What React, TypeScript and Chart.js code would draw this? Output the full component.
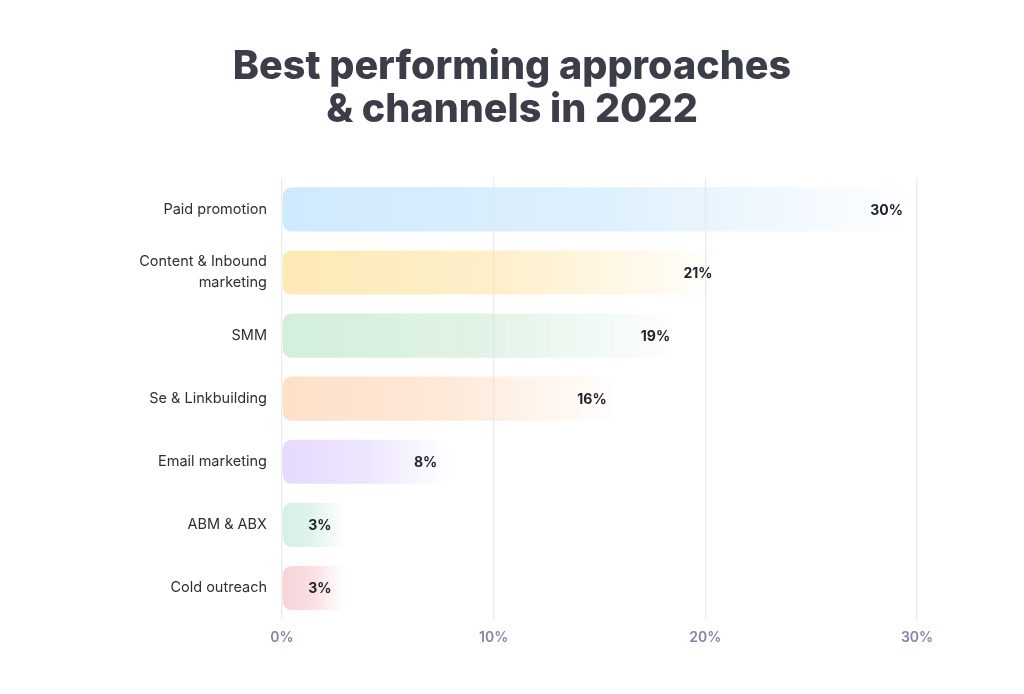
import React, { useEffect, useRef } from "react";
import { Chart, registerables } from "chart.js";

Chart.register(...registerables);

const categories: (string | string[])[] = [
  "Paid promotion",
  ["Content & Inbound", "marketing"],
  "SMM",
  "Se & Linkbuilding",
  "Email marketing",
  "ABM & ABX",
  "Cold outreach",
];
const values = [30, 21, 19, 16, 8, 3, 3];
const barColors = ["#cfe9fc", "#fde9b5", "#d3eedb", "#fde0c8", "#e6dafd", "#d4efe7", "#f8d3d8"];
const xTicks = [0, 10, 20, 30];
const titleLines = ["Best performing approaches", "& channels in 2022"];

function hexToRgba(hex: string, a: number) {
  const n = parseInt(hex.slice(1), 16);
  return `rgba(${(n >> 16) & 255},${(n >> 8) & 255},${n & 255},${a})`;
}

const FONT = "Inter, 'Noto Sans', sans-serif";

const valueLabels = {
  id: "valueLabels",
  afterDatasetsDraw(chart: any) {
    const ctx = chart.ctx;
    const meta = chart.getDatasetMeta(0);
    ctx.save();
    ctx.font = `700 14px ${FONT}`;
    ctx.fillStyle = "#23242b";
    ctx.textAlign = "right";
    ctx.textBaseline = "middle";
    meta.data.forEach((bar: any, i: number) => {
      ctx.fillText(values[i] + "%", bar.x - 14, bar.y + 1);
    });
    ctx.restore();
  },
};

export default function App() {
  const ref = useRef<HTMLCanvasElement>(null);
  useEffect(() => {
    const chart = new Chart(ref.current!, {
      type: "bar",
      data: {
        labels: categories,
        datasets: [
          {
            data: values,
            backgroundColor: (c: any) => {
              const chart = c.chart;
              const i = c.dataIndex;
              const col = barColors[i] || "#ccc";
              if (!chart.chartArea || !chart.scales.x || i === undefined) return col;
              const x0 = chart.scales.x.getPixelForValue(0);
              const x1 = chart.scales.x.getPixelForValue(values[i]);
              const g = chart.ctx.createLinearGradient(x0, 0, x1, 0);
              g.addColorStop(0, hexToRgba(col, 1));
              g.addColorStop(0.5, hexToRgba(col, 0.7));
              g.addColorStop(1, hexToRgba(col, 0));
              return g;
            },
            borderRadius: 9,
            borderSkipped: false,
            barPercentage: 1,
            categoryPercentage: 0.7,
          },
        ],
      },
      options: {
        indexAxis: "y",
        responsive: false,
        animation: false,
        layout: { padding: { left: 0, right: 0, top: 0, bottom: 0 } },
        plugins: {
          legend: { display: false },
          tooltip: { enabled: false },
          title: {
            display: true,
            text: titleLines,
            color: "#3b3d49",
            font: { family: FONT, size: 39.5, weight: "800", lineHeight: 1.1 },
            padding: { top: 45, bottom: 46 },
          },
        },
        scales: {
          x: {
            min: 0,
            max: 30,
            afterBuildTicks: (s: any) => {
              s.ticks = xTicks.map((v) => ({ value: v }));
            },
            afterFit: (s: any) => {
              s.height = 74.5;
            },
            ticks: {
              callback: (v: any) => v + "%",
              color: "#8583a3",
              font: { family: FONT, size: 14, weight: "600" },
              padding: 10,
            },
            grid: { color: "#e9e9ef", lineWidth: 1.2, drawTicks: false },
            border: { display: false },
          },
          y: {
            afterFit: (s: any) => {
              s.width = 282;
            },
            ticks: {
              color: "#2e2f36",
              font: { family: FONT, size: 14.5, lineHeight: 1.45 },
              padding: 7,
            },
            grid: { display: false },
            border: { display: false },
          },
          yRight: {
            type: "category",
            position: "right",
            labels: categories,
            afterFit: (s: any) => {
              s.width = 107;
            },
            ticks: { display: false },
            grid: { display: false },
            border: { display: false },
          },
        },
      },
      plugins: [valueLabels],
    } as any);
    return () => chart.destroy();
  }, []);
  return (
    <div style={{ position: "fixed", left: 0, top: 0, width: 1024, height: 694, background: "#fff" }}>
      <canvas ref={ref} width={1024} height={694} style={{ width: 1024, height: 694 }} />
    </div>
  );
}
